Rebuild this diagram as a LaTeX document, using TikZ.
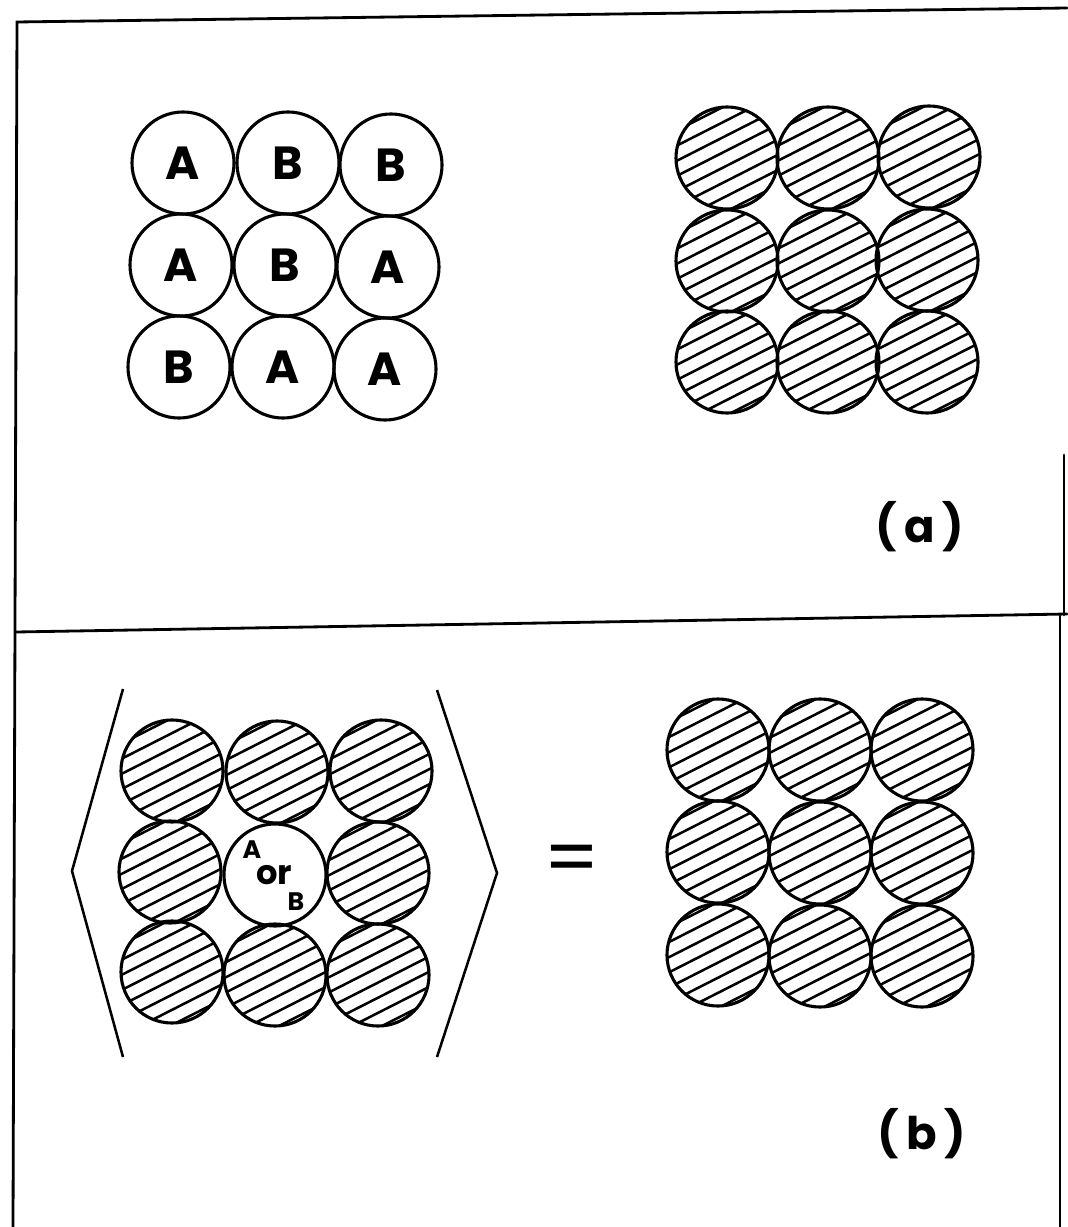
\documentclass[tikz,border=0pt]{standalone}
\usepackage{fontspec}
\setmainfont{Poppins}
\usetikzlibrary{calc}
\newcommand{\Diam}{2.55cm}
\tikzset{Ball/.style={
    circle,
    inner sep=0pt,
    minimum size=\Diam,
    draw=black,
    line width=2.2pt,
    font=\fontsize{33}{36}\selectfont\bfseries,
    },
  Hatched/.style={Ball,
    path picture={
      \foreach \k in {-3,...,4}
        \draw[line width=1.8pt] ($(path picture bounding box.center)+(\k*6.13-3.07-53.5,\k*12.03-6.02+27.2)$) -- ++(107,-54.4);
    }},
}

\begin{document}
\begin{tikzpicture}[x=0.025cm, y=-0.025cm, line width=2.2pt,
    frame/.style={line width=2pt, line cap=round},
    tag/.style={font=\fontsize{32}{36}\selectfont\bfseries},
    site/.style={inner sep=0pt, font=\fontsize{18}{20}\selectfont\bfseries},
]
\useasboundingbox (0,0) rectangle (1067,1227);
% frame
\coordinate (ftl) at (17,22);
\coordinate (ftr) at (1067,8);
\coordinate (fsl) at (16,632);
\coordinate (fsr) at (1067,614);
\coordinate (fbl) at (13,1227);
\coordinate (fra) at (1064,455);
\coordinate (frb) at (1060,616);
\coordinate (frc) at (1060,1227);
\draw[frame] (ftr) -- (ftl) -- (fbl);
\draw[frame] (fsl) -- (fsr);
\draw[frame] (fra) -- (1064,615);
\draw[frame] (frb) -- (frc);
% (a) left: labelled sites
\node [Ball] (tl11) at (183,163) {A};
\node [Ball] (tl12) at (288,163) {B};
\node [Ball] (tl13) at (391,165) {B};
\node [Ball] (tl21) at (181,265) {A};
\node [Ball] (tl22) at (285,265) {B};
\node [Ball] (tl23) at (388,267) {A};
\node [Ball] (tl31) at (179,367) {B};
\node [Ball] (tl32) at (283,367) {A};
\node [Ball] (tl33) at (385,369) {A};
% (a) right: average
\node [Hatched] (tr11) at (727,158) {};
\node [Hatched] (tr12) at (828,158) {};
\node [Hatched] (tr13) at (929,157) {};
\node [Hatched] (tr21) at (727,261) {};
\node [Hatched] (tr22) at (828,261) {};
\node [Hatched] (tr23) at (927,260) {};
\node [Hatched] (tr31) at (727,362) {};
\node [Hatched] (tr32) at (828,362) {};
\node [Hatched] (tr33) at (927,362) {};
\node [tag] (taga) at (920,527) {(\,a\,)};
% (b) left: one real site in the average
\node [Hatched] (bl11) at (172,771) {};
\node [Hatched] (bl12) at (277,772) {};
\node [Hatched] (bl13) at (381,771) {};
\node [Hatched] (bl21) at (170,872) {};
\node [Ball] (bl22) at (275,875) {};
\node [Hatched] (bl23) at (378,873) {};
\node [Hatched] (bl31) at (172,972) {};
\node [Hatched] (bl32) at (275,975) {};
\node [Hatched] (bl33) at (378,975) {};
\node [site] (bla) at ($(bl22)+(-23,-25)$) {A};
\node [site, font=\fontsize{24}{26}\selectfont\bfseries] (blor) at ($(bl22)+(-1,0)$) {or};
\node [site] (blb) at ($(bl22)+(21,27)$) {B};
% brackets
\coordinate (lbt) at (123,689);
\coordinate (lbm) at (72,871);
\coordinate (lbb) at (123,1057);
\coordinate (rbt) at (437,690);
\coordinate (rbm) at (497,873);
\coordinate (rbb) at (437,1057);
\draw[line width=1.8pt] (lbt) -- (lbm) -- (lbb);
\draw[line width=1.8pt] (rbt) -- (rbm) -- (rbb);
\node [font=\fontsize{56}{60}\selectfont] (eq) at (572,865) {=};
% (b) right: average
\node [Hatched] (br11) at (718,750) {};
\node [Hatched] (br12) at (820,750) {};
\node [Hatched] (br13) at (922,750) {};
\node [Hatched] (br21) at (718,852) {};
\node [Hatched] (br22) at (820,853) {};
\node [Hatched] (br23) at (922,853) {};
\node [Hatched] (br31) at (718,955) {};
\node [Hatched] (br32) at (820,956) {};
\node [Hatched] (br33) at (922,956) {};
\node [tag] (tagb) at (922,1134) {(\,b\,)};
\end{tikzpicture}
\end{document}
